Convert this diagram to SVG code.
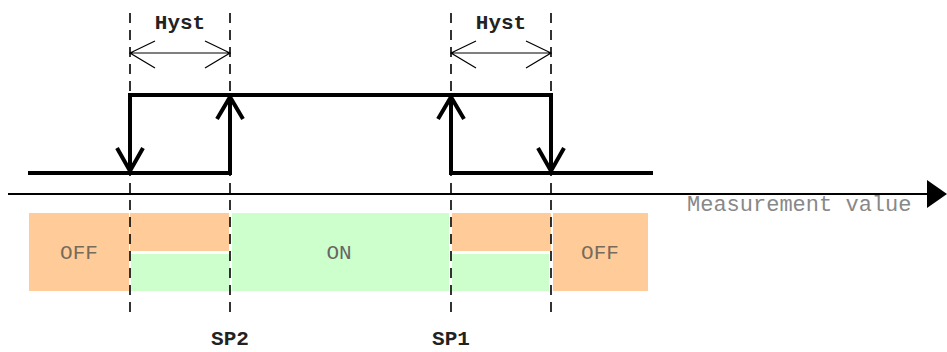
<svg xmlns="http://www.w3.org/2000/svg" width="947" height="352" viewBox="0 0 947 352">
<style>
.dash{stroke:#000;stroke-width:1.6;stroke-dasharray:10,7;fill:none}
.thick{stroke:#000;stroke-width:4;fill:none;stroke-linejoin:miter}
.thin{stroke:#000;stroke-width:1.2;fill:none}
.off{fill:#FFCC99}
.on{fill:#CCFFCC}
.lbl{font-family:"Liberation Mono","Courier New",monospace;font-size:21px}
.bold{font-weight:bold;fill:#222}
</style>
<g id="bands">
<rect class="off" x="29" y="213" width="100" height="78"/>
<rect class="off" x="130" y="213" width="99" height="38"/>
<rect class="on" x="131" y="254" width="99" height="37"/>
<rect class="on" x="232" y="213" width="217" height="78"/>
<rect class="off" x="452" y="213" width="99" height="38"/>
<rect class="on" x="452" y="254" width="97" height="37"/>
<rect class="off" x="553" y="213" width="95" height="78"/>
</g>
<g id="band-labels">
<text class="lbl" x="79" y="259" text-anchor="middle" fill="#776b5c">OFF</text>
<text class="lbl" x="339" y="259" text-anchor="middle" fill="#666">ON</text>
<text class="lbl" x="600" y="259" text-anchor="middle" fill="#776b5c">OFF</text>
</g>
<g id="guides">
<line class="dash" x1="130" y1="13" x2="130" y2="316"/>
<line class="dash" x1="230" y1="13" x2="230" y2="316"/>
<line class="dash" x1="451" y1="13" x2="451" y2="316"/>
<line class="dash" x1="551" y1="13" x2="551" y2="316"/>
</g>
<g id="hyst-left">
<path class="thin" d="M130,53 H230 M155,41 L130,53 L155,68 M205,41 L230,53 L205,68"/>
<text class="lbl bold" x="180" y="29" text-anchor="middle">Hyst</text>
</g>
<g id="hyst-right">
<path class="thin" d="M451,53 H551 M476,41 L451,53 L476,68 M526,41 L551,53 L526,68"/>
<text class="lbl bold" x="501" y="29" text-anchor="middle">Hyst</text>
</g>
<g id="connectors">
<path class="thick" d="M28,173 H230 V95 M130,173 V95 H551 V173 M451,95 V173 H653"/>
<path class="thick" d="M117,148 L130,171 L143,148"/>
<path class="thick" d="M217,119 L230,97 L243,119"/>
<path class="thick" d="M438,119 L451,97 L464,119"/>
<path class="thick" d="M538,148 L551,171 L564,148"/>
</g>
<g id="axis">
<line x1="8" y1="194" x2="930" y2="194" stroke="#000" stroke-width="2"/>
<polygon points="927,180 947,194 927,208" fill="#000"/>
<text class="lbl" x="687" y="211" fill="#888" style="font-size:22px">Measurement value</text>
</g>
<g id="setpoints">
<text class="lbl bold" x="230" y="345" text-anchor="middle">SP2</text>
<text class="lbl bold" x="451" y="345" text-anchor="middle">SP1</text>
</g>
</svg>
